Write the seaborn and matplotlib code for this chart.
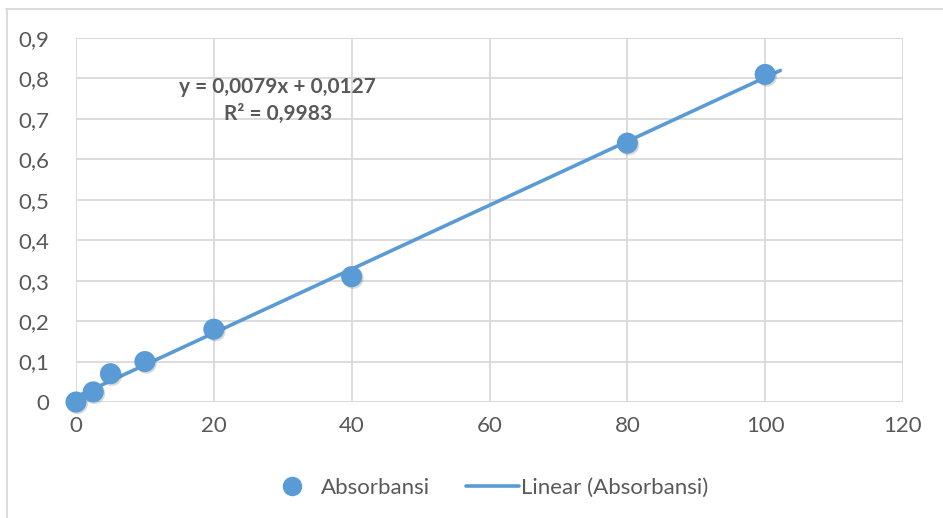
import numpy as np
import pandas as pd
import seaborn as sns
import matplotlib.pyplot as plt
import matplotlib.patheffects as pe
from matplotlib.lines import Line2D

# Data
konsentrasi = [0, 2.5, 5, 10, 20, 40, 80, 100]
absorbansi = [0.0, 0.025, 0.07, 0.10, 0.18, 0.31, 0.64, 0.81]
x_ticks = [0, 20, 40, 60, 80, 100, 120]
y_ticks = [0, 0.1, 0.2, 0.3, 0.4, 0.5, 0.6, 0.7, 0.8, 0.9]

df = pd.DataFrame({'x': konsentrasi, 'y': absorbansi})

sns.set_theme(style='white')
plt.rcParams['font.family'] = ['Lato', 'DejaVu Sans']

blue = '#5B9BD5'
grey_txt = '#595959'
grid_col = '#D9D9D9'
fs = 16

fig = plt.figure(figsize=(9.43, 5.18), dpi=100)
ax = fig.add_axes([76 / 943, 1 - 402 / 518, (903 - 76) / 943, (402 - 38) / 518])

# Linear trendline (least squares), forecast forward a bit like Excel
slope, intercept = np.polyfit(df['x'], df['y'], 1)
fit_x = np.linspace(0, 102.2, 50)
trend = pd.DataFrame({'x': fit_x, 'y': slope * fit_x + intercept})
sns.lineplot(data=trend, x='x', y='y', ax=ax, color=blue, lw=2.6, zorder=3)

sns.scatterplot(data=df, x='x', y='y', ax=ax, color=blue, s=230,
                edgecolor='none', zorder=4, clip_on=False)
ax.collections[-1].set_path_effects(
    [pe.SimplePatchShadow(offset=(1, -1.2), alpha=0.2, shadow_rgbFace='#444444'),
     pe.Normal()])

r2 = np.corrcoef(df['x'], df['y'])[0, 1] ** 2
eq = f'y = {slope:.4f}x + {intercept:.4f}\nR² = {r2:.4f}'.replace('.', ',')
ax.text(29.3, 0.7455, eq, ha='center', va='center', fontsize=15,
        fontweight='bold', color=grey_txt, linespacing=1.45, zorder=5)

ax.set_xlim(0, 120)
ax.set_ylim(0, 0.9)
ax.set_xticks(x_ticks)
ax.set_yticks(y_ticks)
ax.set_xticklabels([str(t) for t in x_ticks])
ax.set_yticklabels(['0'] + [f'{t:.1f}'.replace('.', ',') for t in y_ticks[1:]])
ax.tick_params(axis='both', length=0, labelsize=fs, colors=grey_txt)
ax.tick_params(axis='x', pad=10)
ax.tick_params(axis='y', pad=19)
ax.set_xlabel('')
ax.set_ylabel('')
ax.grid(True, color=grid_col, lw=1.3)
for s in ax.spines.values():
    s.set_visible(False)

handles = [
    Line2D([], [], marker='o', ls='none', color=blue, markersize=13),
    Line2D([], [], color=blue, lw=2.6),
]
fig.legend(handles, ['Absorbansi', 'Linear (Absorbansi)'], loc='center',
           bbox_to_anchor=(487 / 943, 1 - 488 / 518), ncol=2, frameon=False,
           fontsize=fs, labelcolor=grey_txt, handlelength=2.4,
           columnspacing=1.6, handletextpad=0.1)

# outer chart border (top and left only, as in the screenshot)
fig.add_artist(Line2D([6 / 943, 1], [1 - 9 / 518, 1 - 9 / 518],
                      transform=fig.transFigure, color=grid_col, lw=1.3))
fig.add_artist(Line2D([7 / 943, 7 / 943], [0, 1 - 9 / 518],
                      transform=fig.transFigure, color=grid_col, lw=1.3))

fig.savefig('out.png', dpi=100)
